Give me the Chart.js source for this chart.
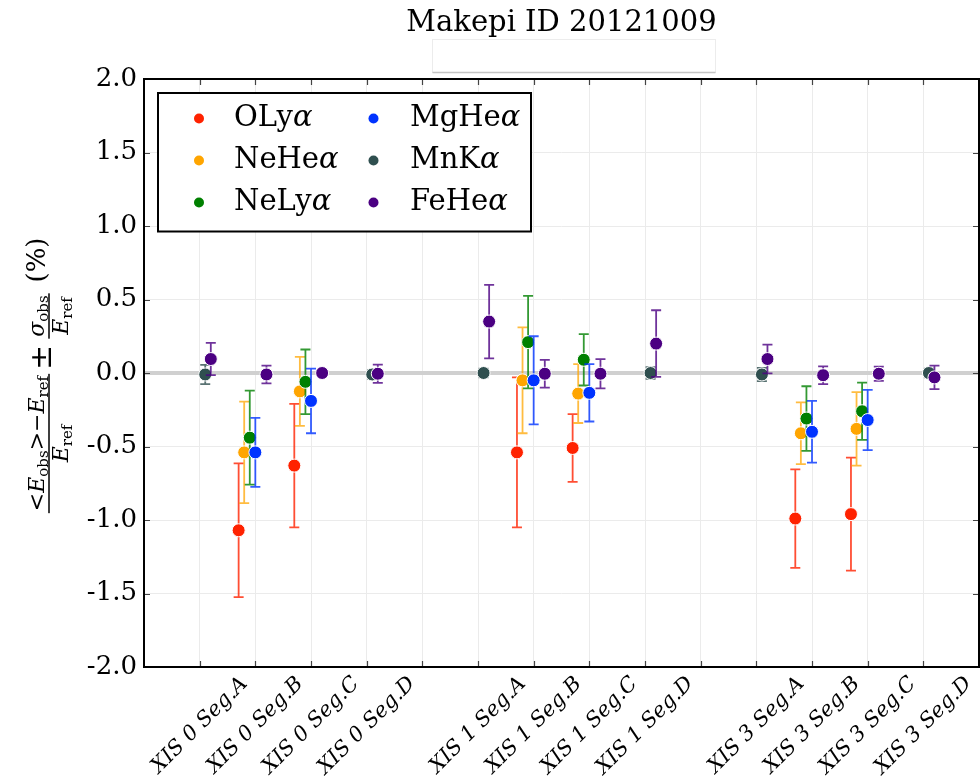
<!DOCTYPE html>
<html>
<head>
<meta charset="utf-8">
<script src="https://cdn.jsdelivr.net/npm/chart.js@4.4.1/dist/chart.umd.min.js"></script>
<style>
html, body { margin: 0; padding: 0; background: #ffffff; }
#wrap { width: 980px; height: 782px; position: relative; }
</style>
</head>
<body>
<div id="wrap"><canvas id="c" width="980" height="782"></canvas></div>
<script>
// Energy-scale residuals per XIS sensor segment, one series per emission line
const chartTitle = 'Makepi ID 20121009';

const segments = [
  'XIS 0 Seg.A', 'XIS 0 Seg.B', 'XIS 0 Seg.C', 'XIS 0 Seg.D',
  'XIS 1 Seg.A', 'XIS 1 Seg.B', 'XIS 1 Seg.C', 'XIS 1 Seg.D',
  'XIS 3 Seg.A', 'XIS 3 Seg.B', 'XIS 3 Seg.C', 'XIS 3 Seg.D'
];
// slot on the x axis for each segment (an empty slot separates the sensors)
const segmentSlots = [1, 2, 3, 4, 6, 7, 8, 9, 11, 12, 13, 14];

const lineNames = ['OLyα', 'NeHeα', 'NeLyα', 'MgHeα', 'MnKα', 'FeHeα'];

// mean deviation (%) and its 1-sigma spread (%) per segment; null = line not measured
const oLyMean  = [null, -1.07, -0.63, null, null, -0.54, -0.51, null, null, -0.99, -0.96, null];
const oLyErr   = [null, 0.455, 0.42, null, null, 0.51, 0.23, null, null, 0.335, 0.385, null];
const neHeMean = [null, -0.54, -0.125, null, null, -0.05, -0.14, null, null, -0.41, -0.38, null];
const neHeErr  = [null, 0.345, 0.235, null, null, 0.36, 0.20, null, null, 0.21, 0.25, null];
const neLyMean = [null, -0.44, -0.06, null, null, 0.21, 0.09, null, null, -0.31, -0.26, null];
const neLyErr  = [null, 0.32, 0.22, null, null, 0.315, 0.175, null, null, 0.22, 0.195, null];
const mgHeMean = [null, -0.54, -0.19, null, null, -0.05, -0.135, null, null, -0.40, -0.32, null];
const mgHeErr  = [null, 0.235, 0.22, null, null, 0.30, 0.195, null, null, 0.21, 0.205, null];
const mnKMean  = [-0.01, null, null, -0.01, 0.0, null, null, 0.0, -0.01, null, null, 0.0];
const mnKErr   = [0.065, null, null, 0.03, 0.03, null, null, 0.04, 0.045, null, null, 0.03];
const feHeMean = [0.095, -0.01, 0.0, -0.005, 0.35, -0.005, -0.005, 0.20, 0.095, -0.015, -0.005, -0.03];
const feHeErr  = [0.11, 0.06, 0.02, 0.062, 0.25, 0.094, 0.10, 0.227, 0.098, 0.06, 0.048, 0.08];

const yTickValues = [-2.0, -1.5, -1.0, -0.5, 0.0, 0.5, 1.0, 1.5, 2.0];

// styling
const lineColors = ['#ff2200', '#ffa500', '#008000', '#0033ff', '#2f4f4f', '#4b0082'];
const errColors  = ['rgba(255,34,0,0.8)', 'rgba(255,165,0,0.75)', 'rgba(0,128,0,0.8)',
                    'rgba(0,51,255,0.8)', 'rgba(47,79,79,0.8)', 'rgba(75,0,130,0.8)'];
const lineShift  = [-0.3, -0.2, -0.1, 0.0, 0.1, 0.2];
const SERIF = '"DejaVu Serif", "Liberation Serif", serif';

const means = [oLyMean, neHeMean, neLyMean, mgHeMean, mnKMean, feHeMean];
const errs  = [oLyErr, neHeErr, neLyErr, mgHeErr, mnKErr, feHeErr];

const datasets = lineNames.map((name, k) => {
  const pts = [];
  segmentSlots.forEach((slot, i) => {
    if (means[k][i] !== null) {
      pts.push({ x: slot + lineShift[k], y: means[k][i], err: errs[k][i] });
    }
  });
  return {
    label: name,
    data: pts,
    backgroundColor: lineColors[k],
    borderColor: '#ffffff',
    borderWidth: 1,
    pointRadius: 6.5,
    errColor: errColors[k],
    order: lineNames.length - k
  };
});

function font(size, italic) {
  return (italic ? 'italic ' : '') + size + 'px ' + SERIF;
}

function drawYLabel(ctx) {
  const mid = 22, sub = 15, big = 26;
  const num1 = [['<', mid, false, 0], ['E', mid, true, 0], ['obs', sub, false, 4],
                ['>', mid, false, 0], ['\u2212', mid, false, 0], ['E', mid, true, 0], ['ref', sub, false, 4]];
  const den = [['E', mid, true, 0], ['ref', sub, false, 4]];
  const num2 = [['\u03c3', mid, true, 0], ['obs', sub, false, 4]];
  const width = runs => runs.reduce((w, r) => { ctx.font = font(r[1], r[2]); return w + ctx.measureText(r[0]).width; }, 0);
  const drawRuns = (runs, x, base) => {
    runs.forEach(r => { ctx.font = font(r[1], r[2]); ctx.fillText(r[0], x, base + r[3]); x += ctx.measureText(r[0]).width; });
  };
  const frac = (num, dn, cu) => {
    const wn = width(num), wd = width(dn);
    const w = Math.max(wn, wd) + 4;
    ctx.fillRect(cu - w / 2, -0.75, w, 1.5);
    drawRuns(num, cu - wn / 2, -5);
    drawRuns(dn, cu - wd / 2, 19);
  };
  ctx.save();
  ctx.translate(49, 373);
  ctx.rotate(-Math.PI / 2);
  ctx.fillStyle = '#000';
  ctx.textBaseline = 'alphabetic';
  ctx.textAlign = 'left';
  frac(num1, den, -70.5);
  ctx.font = font(30, false);
  ctx.textAlign = 'center';
  ctx.fillText('\u00b1', 15.5, 2);
  ctx.textAlign = 'left';
  frac(num2, den, 57);
  ctx.font = font(big, false);
  ctx.textAlign = 'center';
  ctx.fillText('(%)', 113, -4);
  ctx.restore();
}

const decor = {
  id: 'decor',
  beforeDatasetDraw(chart, args) {
    const ds = chart.data.datasets[args.index];
    const { ctx } = chart;
    const xs = chart.scales.x, ys = chart.scales.y;
    ctx.save();
    ctx.strokeStyle = ds.errColor;
    ctx.lineWidth = 1.8;
    ds.data.forEach(p => {
      const px = xs.getPixelForValue(p.x);
      const y1 = ys.getPixelForValue(p.y + p.err);
      const y2 = ys.getPixelForValue(p.y - p.err);
      ctx.beginPath();
      ctx.moveTo(px, y1); ctx.lineTo(px, y2);
      ctx.moveTo(px - 5, y1); ctx.lineTo(px + 5, y1);
      ctx.moveTo(px - 5, y2); ctx.lineTo(px + 5, y2);
      ctx.stroke();
    });
    ctx.restore();
  },
  afterDraw(chart) {
    const { ctx, chartArea: a } = chart;
    const xs = chart.scales.x, ys = chart.scales.y;
    ctx.save();

    // inward tick marks on all four sides
    ctx.strokeStyle = '#444';
    ctx.lineWidth = 1.2;
    ctx.beginPath();
    segmentSlots.concat([5, 10]).forEach(v => {
      const px = Math.round(xs.getPixelForValue(v)) + 0.5;
      ctx.moveTo(px, a.top); ctx.lineTo(px, a.top + 6);
      ctx.moveTo(px, a.bottom); ctx.lineTo(px, a.bottom - 6);
    });
    yTickValues.forEach(v => {
      const py = Math.round(ys.getPixelForValue(v)) + 0.5;
      ctx.moveTo(a.left, py); ctx.lineTo(a.left + 6, py);
      ctx.moveTo(a.right, py); ctx.lineTo(a.right - 6, py);
    });
    ctx.stroke();

    // frame
    ctx.strokeStyle = '#000';
    ctx.lineWidth = 2;
    ctx.strokeRect(a.left, a.top, a.right - a.left, a.bottom - a.top);

    // legend
    const lx = a.left + 14, ly = a.top + 14, lw = 373, lh = 138.5;
    ctx.fillStyle = '#fff';
    ctx.fillRect(lx, ly, lw, lh);
    ctx.strokeRect(lx, ly, lw, lh);
    chart.data.datasets.forEach((ds, k) => {
      const col = Math.floor(k / 3), row = k % 3;
      const cy = ly + 25.5 + row * 42;
      const dx = lx + 41 + col * 174.5;
      ctx.beginPath();
      ctx.arc(dx, cy, 5, 0, Math.PI * 2);
      ctx.fillStyle = ds.backgroundColor;
      ctx.fill();
      ctx.fillStyle = '#000';
      ctx.textBaseline = 'middle';
      ctx.textAlign = 'left';
      const base = ds.label.slice(0, -1), greek = ds.label.slice(-1);
      let tx = lx + 76 + col * 176;
      ctx.font = font(29, false);
      ctx.fillText(base, tx, cy);
      tx += ctx.measureText(base).width;
      ctx.font = font(29, true);
      ctx.fillText(greek, tx, cy);
    });

    // title and the empty panel beneath it
    ctx.fillStyle = '#000';
    ctx.font = font(29, false);
    ctx.textAlign = 'center';
    ctx.textBaseline = 'alphabetic';
    ctx.fillText(chartTitle, (a.left + a.right) / 2, 31);
    ctx.fillStyle = '#fff';
    ctx.strokeStyle = '#ececec';
    ctx.lineWidth = 1;
    ctx.fillRect(432.5, 39.5, 283, 33);
    ctx.strokeRect(432.5, 39.5, 283, 33);
    ctx.strokeStyle = '#c4c4c4';
    ctx.lineWidth = 1.5;
    ctx.beginPath(); ctx.moveTo(432.5, 72.5); ctx.lineTo(715.5, 72.5); ctx.stroke();

    // rotated segment labels
    ctx.fillStyle = '#000';
    ctx.font = font(21, true);
    ctx.textAlign = 'center';
    ctx.textBaseline = 'middle';
    segments.forEach((s, i) => {
      const px = xs.getPixelForValue(segmentSlots[i]);
      const w = ctx.measureText(s).width, h = 21 * 1.16;
      const half = (w + h) / (2 * Math.SQRT2);
      ctx.save();
      ctx.translate(px, a.bottom + 5 + half);
      ctx.rotate(-Math.PI / 4);
      ctx.fillText(s, 0, 0);
      ctx.restore();
    });

    drawYLabel(ctx);
    ctx.restore();
  }
};

new Chart(document.getElementById('c').getContext('2d'), {
  type: 'scatter',
  data: { datasets },
  options: {
    responsive: false,
    animation: false,
    events: [],
    layout: { autoPadding: false, padding: { top: 79, right: 1, left: 0, bottom: 0 } },
    plugins: { legend: { display: false }, tooltip: { enabled: false }, title: { display: false } },
    scales: {
      x: {
        type: 'linear', min: 0, max: 15,
        ticks: { display: false, stepSize: 1 },
        grid: { color: '#ebebeb', lineWidth: 1, drawTicks: false },
        border: { display: false },
        afterFit: s => { s.height = 115; }
      },
      y: {
        type: 'linear', min: -2, max: 2,
        afterBuildTicks: s => { s.ticks = yTickValues.map(v => ({ value: v })); },
        ticks: {
          font: { family: SERIF, size: 26 }, color: '#000', padding: 7,
          callback: v => v.toFixed(1)
        },
        grid: {
          color: c => (c.tick && c.tick.value === 0) ? '#d0d0d0' : '#ebebeb',
          lineWidth: c => (c.tick && c.tick.value === 0) ? 4 : 1,
          drawTicks: false
        },
        border: { display: false },
        afterFit: s => { s.width = 144; }
      }
    }
  },
  plugins: [decor]
});
</script>
</body>
</html>
